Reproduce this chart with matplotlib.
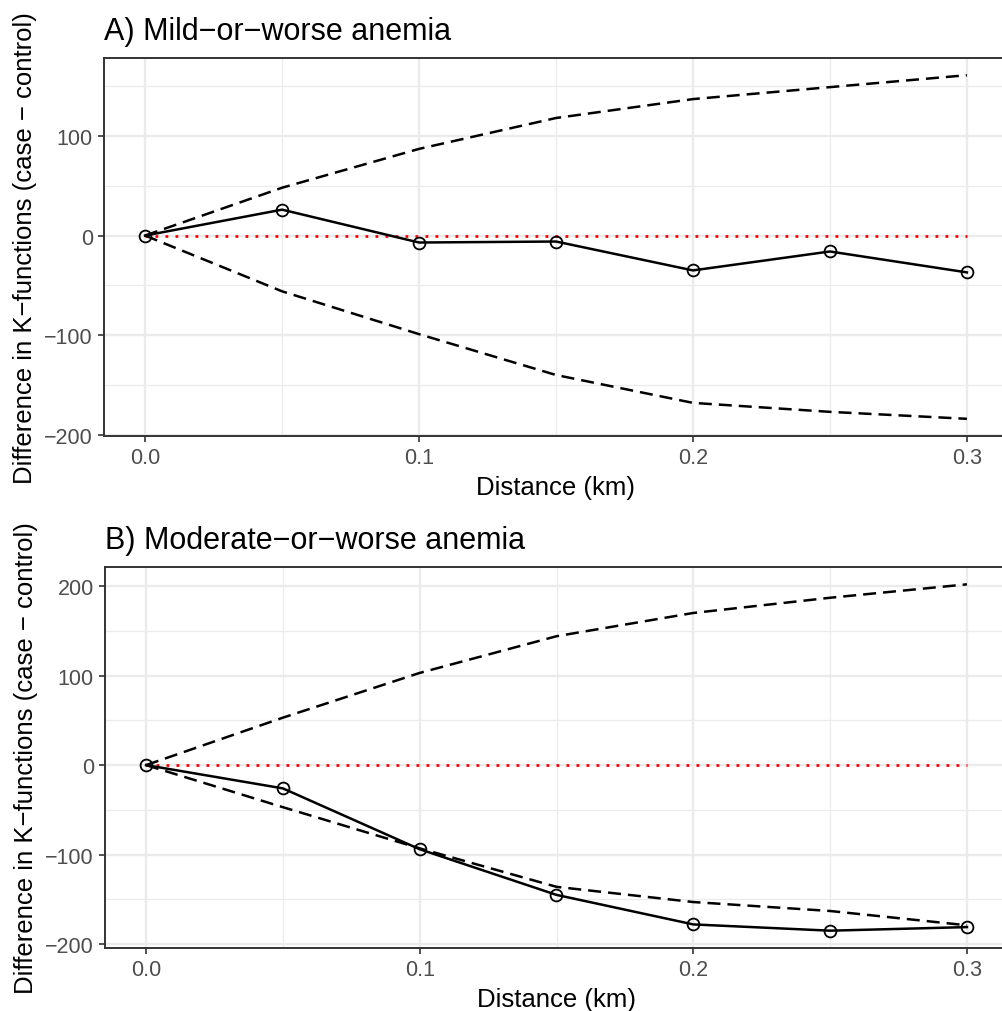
import numpy as np
import matplotlib
matplotlib.use("Agg")
import matplotlib.pyplot as plt
from matplotlib.ticker import MultipleLocator

plt.rcParams["font.family"] = ["Liberation Sans", "DejaVu Sans"]

# ── data ──
distance = [0.0, 0.05, 0.10, 0.15, 0.20, 0.25, 0.30]

obs_a = [0, 26, -7, -6, -35, -16, -37]
upper_a = [0, 48, 87, 118, 137, 149, 161]
lower_a = [0, -56, -99, -140, -168, -177, -184]

obs_b = [0, -26, -94, -145, -178, -185, -181]
upper_b = [0, 53, 103, 144, 170, 187, 202]
lower_b = [0, -47, -93, -136, -153, -163, -179]

titles = ["A) Mild\u2212or\u2212worse anemia", "B) Moderate\u2212or\u2212worse anemia"]
ylab = "Difference in K\u2212functions (case \u2212 control)"

W, H = 1002, 1012
fig = plt.figure(figsize=(W / 100, H / 100), dpi=100)

# axes boxes in pixels: left, top, right, bottom
boxes = [(104, 59, 1008, 437), (105, 568, 1008, 949)]
panels = [(obs_a, upper_a, lower_a), (obs_b, upper_b, lower_b)]

def fmt_y(v):
    return f"{v:.0f}".replace("-", "\u2212")

for (l, t, r, b), (obs, up, lo), title in zip(boxes, panels, titles):
    ax = fig.add_axes([l / W, 1 - b / H, (r - l) / W, (b - t) / H])
    ax.set_facecolor("white")

    # ggplot-style expansion (5%)
    xr = max(distance) - min(distance)
    xlim = (min(distance) - 0.05 * xr, max(distance) + 0.05 * xr)
    ymin = min(min(obs), min(lo))
    ymax = max(max(obs), max(up))
    yr = ymax - ymin
    ylim = (ymin - 0.05 * yr, ymax + 0.05 * yr)

    ax.xaxis.set_minor_locator(MultipleLocator(0.05))
    ax.yaxis.set_minor_locator(MultipleLocator(50))
    xt = [0.0, 0.1, 0.2, 0.3]
    yt = [v for v in range(-200, 300, 100) if ylim[0] <= v <= ylim[1]]
    ax.set_xticks(xt)
    ax.set_xticklabels([f"{v:.1f}" for v in xt])
    ax.set_yticks(yt)
    ax.set_yticklabels([fmt_y(v) for v in yt])
    ax.set_xlim(*xlim)
    ax.set_ylim(*ylim)

    ax.grid(which="major", color="#ebebeb", linewidth=1.7)
    ax.grid(which="minor", color="#ebebeb", linewidth=0.9)
    ax.set_axisbelow(True)
    ax.tick_params(which="minor", length=0)
    ax.tick_params(which="major", length=4, width=1.2, color="#333333",
                   labelsize=15.5, labelcolor="#4d4d4d", pad=4)
    for s in ax.spines.values():
        s.set_color("#333333")
        s.set_linewidth(1.4)

    ax.plot([distance[0], distance[-1]], [0, 0], color="red",
            linewidth=2.0, linestyle=(0, (1, 2.6)), zorder=2)
    ax.plot(distance, up, color="black", linewidth=1.8,
            linestyle=(0, (5.2, 2.8)), zorder=3)
    ax.plot(distance, lo, color="black", linewidth=1.8,
            linestyle=(0, (5.2, 2.8)), zorder=3)
    ax.plot(distance, obs, color="black", linewidth=1.8, marker="o",
            markersize=8.5, markerfacecolor="none", markeredgewidth=1.3,
            zorder=4)

    ax.set_title(title, loc="left", fontsize=22, pad=14, x=0.0)
    ax.set_xlabel("Distance (km)", fontsize=18.5, labelpad=5)
    ax.set_ylabel(ylab, fontsize=18.5, labelpad=5)

fig.savefig("out.png", dpi=100, facecolor="white")
